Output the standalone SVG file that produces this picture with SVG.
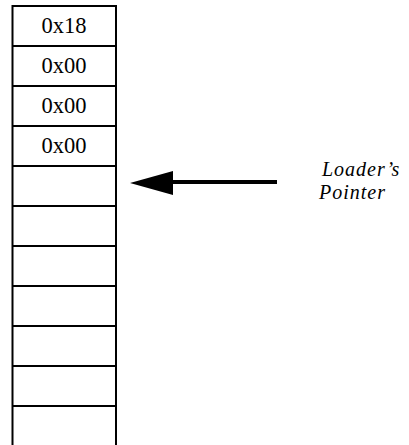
<svg xmlns="http://www.w3.org/2000/svg" width="409" height="445" viewBox="0 0 409 445">
<style>
.ln{stroke:#000;stroke-width:2;fill:none}
.cell{font-family:"Liberation Serif","Times New Roman",serif;font-size:22.5px;fill:#000;text-anchor:middle}
.lbl{font-family:"Liberation Serif","Times New Roman",serif;font-size:20px;font-style:italic;fill:#000}
</style>
<rect width="409" height="445" fill="#fff"/>
<g id="memory">
<path class="ln" d="M12.5 445V6H116V445"/>
<path class="ln" d="M12.5 46H116M12.5 86H116M12.5 126H116M12.5 166H116M12.5 206H116M12.5 246H116M12.5 286H116M12.5 326H116M12.5 366H116M12.5 406H116"/>
<text class="cell" x="64" y="33">0x18</text>
<text class="cell" x="64" y="73">0x00</text>
<text class="cell" x="64" y="113">0x00</text>
<text class="cell" x="64" y="153">0x00</text>
</g>
<g id="label">
<text class="lbl" x="322" y="176" letter-spacing="1">Loader’s</text>
<text class="lbl" x="319" y="199" letter-spacing="1">Pointer</text>
</g>
<g id="connectors">
<line x1="277" y1="182" x2="168" y2="182" stroke="#000" stroke-width="4"/>
<polygon points="130,183 173,171 173,195" fill="#000"/>
</g>
</svg>
